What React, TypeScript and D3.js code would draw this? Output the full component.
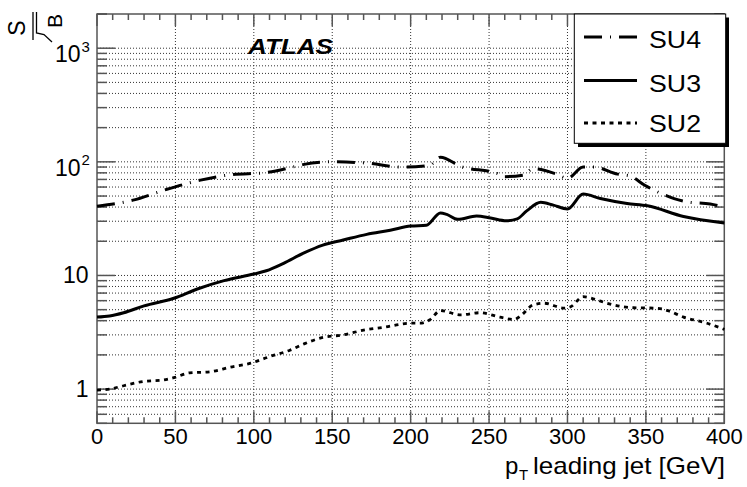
import React from "react";
import * as d3 from "d3";

const su4X = [0, 23, 44, 66, 85, 108, 127, 132, 149, 172, 194, 212, 219, 232, 255, 259, 272, 278, 293, 300, 310, 317, 332, 340, 349, 355, 368, 376, 391, 400];
const su4Y = [40.7, 46, 57, 69, 77, 80.5, 91.5, 95, 100, 97.5, 90, 93, 110, 91, 79, 74, 76.5, 87, 78, 71.5, 90, 90, 78, 75, 62.5, 56.5, 47.5, 44.5, 42.5, 40];

const su3X = [0, 8, 17, 30, 49, 64, 81, 100, 108, 119, 132, 144, 157, 172, 187, 200, 210, 219, 223, 230, 242, 251, 261, 268, 274, 283, 291, 300, 310, 321, 338, 351, 374, 400];
const su3Y = [4.3, 4.4, 4.7, 5.4, 6.3, 7.6, 9.0, 10.3, 11.0, 12.8, 15.8, 18.5, 20.5, 23.0, 25.0, 27.2, 27.7, 35.5, 34.5, 31.2, 33.3, 32.0, 30.3, 31.5, 37, 44, 41.6, 38.5, 52, 47.6, 43, 41, 33, 29];

const su2X = [0, 8, 17, 30, 42, 49, 59, 72, 85, 98, 110, 123, 132, 144, 157, 170, 183, 200, 206, 212, 219, 232, 244, 257, 266, 270, 278, 285, 298, 302, 310, 317, 325, 342, 357, 364, 374, 389, 400];
const su2Y = [0.98, 1.0, 1.07, 1.17, 1.2, 1.26, 1.39, 1.42, 1.56, 1.69, 1.93, 2.2, 2.5, 2.85, 3.0, 3.3, 3.5, 3.8, 3.8, 4.05, 4.9, 4.5, 4.7, 4.3, 4.1, 4.4, 5.5, 5.7, 5.15, 5.3, 6.5, 6.2, 5.7, 5.2, 5.15, 4.9, 4.3, 3.8, 3.35];

const xTicks = [0, 50, 100, 150, 200, 250, 300, 350, 400];
const yMajor = [1, 10, 100, 1000];
const yLabels = ["1", "10", "10^2", "10^3"];
const seriesNames = ["SU4", "SU3", "SU2"];

const FONT = "'Liberation Sans', Arial, Helvetica, sans-serif";

export default function App() {
  const L = 97, R = 724.3, T = 14, B = 423.3;
  const x = d3.scaleLinear().domain([0, 400]).range([L, R]);
  const y = d3.scaleLog().domain([0.5, 2000]).range([B, T]);

  const line = d3
    .line<[number, number]>()
    .x((d) => x(d[0]))
    .y((d) => y(d[1]))
    .curve(d3.curveMonotoneX);

  const toPts = (xs: number[], ys: number[]) => xs.map((v, i) => [v, ys[i]] as [number, number]);

  const yAll: number[] = [];
  for (let e = -1; e <= 3; e++) {
    for (let m = 1; m <= 9; m++) {
      const v = m * Math.pow(10, e);
      if (v >= 0.5 && v <= 2000) yAll.push(v);
    }
  }
  yAll.push(2000);
  const xMinor = d3.range(0, 401, 10);

  const styles = [
    { dash: "18 8 1 8", width: 3 },
    { dash: "none", width: 3 },
    { dash: "4 4.5", width: 2.8 },
  ];
  const data = [toPts(su4X, su4Y), toPts(su3X, su3Y), toPts(su2X, su2Y)];

  const gridColor = "#333";
  const frameColor = "#555";

  return (
    <svg width={747} height={487} style={{ position: "absolute", left: 0, top: 0, background: "#fff" }}>
      <rect x={0} y={0} width={747} height={487} fill="#fff" />
      <g stroke={gridColor} strokeWidth={1} strokeDasharray="1 2" fill="none">
        {xTicks.slice(1, -1).map((v) => (
          <line key={"gx" + v} x1={x(v)} x2={x(v)} y1={T} y2={B} />
        ))}
        {yAll
          .filter((v) => v > 0.5 && v < 2000)
          .map((v) => (
            <line key={"gy" + v} x1={L} x2={R} y1={y(v)} y2={y(v)} />
          ))}
      </g>
      <g stroke={frameColor} strokeWidth={1.5}>
        {xMinor.map((v) => {
          const len = v % 50 === 0 ? 12 : 6;
          return (
            <g key={"tx" + v}>
              <line x1={x(v)} x2={x(v)} y1={B} y2={B - len} />
              <line x1={x(v)} x2={x(v)} y1={T} y2={T + len} />
            </g>
          );
        })}
        {yAll.map((v) => {
          const major = yMajor.includes(v);
          const len = major ? 18 : 10;
          return (
            <g key={"ty" + v}>
              <line x1={L} x2={L + len} y1={y(v)} y2={y(v)} />
              <line x1={R} x2={R - len} y1={y(v)} y2={y(v)} />
            </g>
          );
        })}
      </g>
      <rect x={L} y={T} width={R - L} height={B - T} fill="none" stroke={frameColor} strokeWidth={1.5} />
      {data.map((pts, i) => (
        <path
          key={"s" + i}
          d={line(pts) || ""}
          fill="none"
          stroke="#000"
          strokeWidth={styles[i].width}
          strokeDasharray={styles[i].dash}
          strokeLinejoin="round"
        />
      ))}
      <g fontFamily={FONT} fontSize={22} fill="#000" textAnchor="middle">
        {xTicks.map((v) => (
          <text key={"xl" + v} x={x(v)} y={444}>
            {v}
          </text>
        ))}
      </g>
      <g fontFamily={FONT} fill="#000">
        {yMajor.map((v, i) => {
          const lab = yLabels[i];
          if (lab.includes("^")) {
            const [base, exp] = lab.split("^");
            return (
              <g key={"yl" + v}>
                <text x={80.5} y={y(v) + 14} fontSize={23} textAnchor="end">
                  {base}
                </text>
                <text x={81.5} y={y(v) + 3.5} fontSize={15} textAnchor="start">
                  {exp}
                </text>
              </g>
            );
          }
          return (
            <text key={"yl" + v} x={88.5} y={y(v) + 8} fontSize={23} textAnchor="end">
              {lab}
            </text>
          );
        })}
      </g>
      <g fontFamily={FONT} fill="#000">
        <text x={505} y={474} fontSize={24}>p</text>
        <text x={519} y={480} fontSize={15}>T</text>
        <text x={533} y={474} fontSize={24} textLength={192} lengthAdjust="spacingAndGlyphs">
          leading jet [GeV]
        </text>
      </g>
      <g fontFamily={FONT} fill="#000">
        <text transform="translate(25,28) rotate(-90)" fontSize={23} textAnchor="middle">S</text>
        <line x1={33} x2={33} y1={12} y2={40} stroke="#000" strokeWidth={1.3} />
        <path d="M36.5,12 L36.5,33 L44,34.5 L52,42" fill="none" stroke="#000" strokeWidth={1.3} />
        <text transform="translate(62,21) rotate(-90)" fontSize={21} textAnchor="middle">B</text>
      </g>
      <text
        x={248}
        y={54}
        fontFamily={FONT}
        fontSize={22}
        fontWeight="bold"
        fontStyle="italic"
        textLength={85}
        lengthAdjust="spacingAndGlyphs"
      >
        ATLAS
      </text>
      <rect x={578} y={17.5} width={151} height={129.5} fill="#000" />
      <rect x={574.3} y={14} width={151.4} height={129.3} fill="#fff" stroke="#000" strokeWidth={1} />
      {seriesNames.map((n, i) => {
        const ly = [37, 80.5, 123][i];
        const ty = [48.3, 91.7, 131.7][i];
        return (
          <g key={"lg" + n}>
            <line
              x1={584}
              x2={637}
              y1={ly}
              y2={ly}
              stroke="#000"
              strokeWidth={styles[i].width}
              strokeDasharray={styles[i].dash}
            />
            <text
              x={649}
              y={ty}
              fontFamily={FONT}
              fontSize={23}
              textLength={52}
              lengthAdjust="spacingAndGlyphs"
            >
              {n}
            </text>
          </g>
        );
      })}
    </svg>
  );
}
